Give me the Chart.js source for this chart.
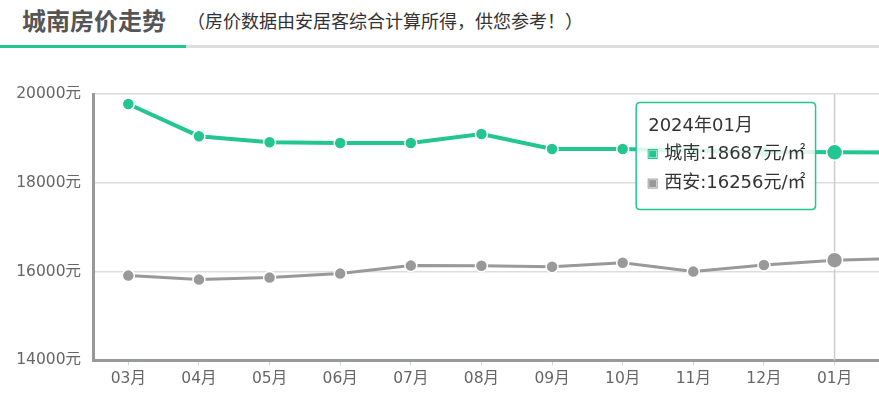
<!DOCTYPE html>
<html>
<head>
<meta charset="utf-8">
<script src="https://cdn.jsdelivr.net/npm/chart.js@4"></script>
<style>
  body { margin: 0; width: 879px; height: 405px; overflow: hidden; background: #fff; font-family: "Noto Sans CJK SC", sans-serif; }
  .head { position: absolute; left: 0; top: 0; width: 879px; height: 45px; }
  .head h2 { position: absolute; left: 22px; top: 4px; margin: 0; font-size: 24px; font-weight: bold; color: #555; line-height: 32px; }
  .head span { position: absolute; left: 187px; top: 6px; font-size: 18px; color: #333; line-height: 28px; }
  .bar { position: absolute; left: 0; top: 45px; width: 879px; height: 3px; background: #ddd; }
  .bar i { position: absolute; left: 0; top: 0; width: 186px; height: 3px; background: #23c68e; }
  .box { position: absolute; left: 0; top: 60px; width: 950px; height: 345px; }
</style>
</head>
<body>
<div class="head">
  <h2>城南房价走势</h2>
  <span>（房价数据由安居客综合计算所得，供您参考！）</span>
</div>
<div class="bar"><i></i></div>
<div class="box"><canvas id="priceChart"></canvas></div>
<script>
// 数据
const periods = ['2023年03月', '2023年04月', '2023年05月', '2023年06月', '2023年07月', '2023年08月',
  '2023年09月', '2023年10月', '2023年11月', '2023年12月', '2024年01月', '2024年02月'];
const chengnan = [19775, 19050, 18915, 18895, 18895, 19100, 18760, 18760, 18720, 18700, 18687, 18680];
const xian = [15910, 15820, 15865, 15955, 16135, 16130, 16110, 16200, 16000, 16150, 16256, 16300];
const yTicks = [14000, 16000, 18000, 20000];
const activeIndex = 10;

const GREEN = '#23c68e';
const GRAY = '#999999';
const FONT = '"DejaVu Sans", "Noto Sans CJK SC", sans-serif';

// 提示框固定在当前点左侧
Chart.Tooltip.positioners.leftOfPoint = function (elements) {
  if (!elements.length) return false;
  const area = this.chart.chartArea;
  return { x: elements[0].element.x, y: area.top + 62 };
};

// 竖向指示线
const crosshair = {
  id: 'crosshair',
  beforeDatasetsDraw(chart) {
    const act = chart.getActiveElements();
    if (!act.length) return;
    const x = act[0].element.x;
    const { top, bottom } = chart.chartArea;
    const ctx = chart.ctx;
    ctx.save();
    ctx.strokeStyle = '#cccccc';
    ctx.lineWidth = 1.5;
    ctx.beginPath();
    ctx.moveTo(x, top);
    ctx.lineTo(x, bottom);
    ctx.stroke();
    ctx.restore();
  }
};

const ctx = document.getElementById('priceChart').getContext('2d');
const chart = new Chart(ctx, {
  type: 'line',
  data: {
    labels: periods,
    datasets: [
      {
        label: '城南',
        data: chengnan,
        borderColor: GREEN,
        backgroundColor: GREEN,
        borderWidth: 4,
        pointRadius: 6,
        pointBorderWidth: 1.5,
        pointBorderColor: '#fff',
        pointHoverRadius: 8,
        pointHoverBorderWidth: 1.5,
        pointHoverBorderColor: '#fff',
        pointHoverBackgroundColor: GREEN,
        tension: 0,
      },
      {
        label: '西安',
        data: xian,
        borderColor: GRAY,
        backgroundColor: GRAY,
        borderWidth: 3,
        pointRadius: 6,
        pointBorderWidth: 1.5,
        pointBorderColor: '#fff',
        pointHoverRadius: 8,
        pointHoverBorderWidth: 1.5,
        pointHoverBorderColor: '#fff',
        pointHoverBackgroundColor: GRAY,
        tension: 0,
      },
    ],
  },
  options: {
    responsive: true,
    maintainAspectRatio: false,
    animation: false,
    events: [],
    layout: { padding: { top: 34, right: 4, bottom: 13, left: 0 } },
    plugins: {
      legend: { display: false },
      tooltip: {
        enabled: true,
        mode: 'index',
        intersect: false,
        position: 'leftOfPoint',
        xAlign: 'right',
        yAlign: 'center',
        caretSize: 0,
        caretPadding: 19,
        backgroundColor: 'rgba(255,255,255,0.85)',
        borderColor: GREEN,
        borderWidth: 1.5,
        cornerRadius: 4,
        titleColor: '#333',
        bodyColor: '#333',
        titleFont: { family: FONT, size: 18, weight: 'normal' },
        bodyFont: { family: FONT, size: 18 },
        padding: { top: 13, bottom: 15, left: 12, right: 10 },
        titleMarginBottom: 6,
        bodySpacing: 8,
        boxWidth: 9,
        boxHeight: 9,
        boxPadding: 5,
        multiKeyBackground: 'rgba(0,0,0,0)',
        displayColors: true,
        callbacks: {
          title: (items) => periods[items[0].dataIndex],
          label: (item) => item.dataset.label + ':' + item.raw + '元/㎡',
          labelColor: (item) => ({
            borderColor: item.dataset.borderColor,
            backgroundColor: item.dataset.borderColor,
            borderWidth: 1,
          }),
        },
      },
    },
    scales: {
      x: {
        offset: true,
        border: { color: GRAY, width: 3 },
        grid: { drawOnChartArea: false, drawTicks: true, tickLength: 5, color: '#c8d6e8' },
        ticks: {
          color: '#666',
          font: { family: FONT, size: 15.5 },
          padding: 4,
          callback: (v, i) => periods[i].slice(5),
        },
      },
      y: {
        min: yTicks[0],
        max: yTicks[yTicks.length - 1],
        afterBuildTicks: (scale) => { scale.ticks = yTicks.map((v) => ({ value: v })); },
        afterFit: (scale) => { scale.width = 93; },
        border: { color: GRAY, width: 3 },
        grid: { color: '#dddddd', lineWidth: 1.5, drawTicks: false },
        ticks: {
          color: '#666',
          font: { family: FONT, size: 15.5 },
          padding: 12,
          callback: (v) => v + '元',
        },
      },
    },
  },
  plugins: [crosshair],
});

// 默认显示2024年01月的提示
const act = [{ datasetIndex: 0, index: activeIndex }, { datasetIndex: 1, index: activeIndex }];
chart.setActiveElements(act);
chart.tooltip.setActiveElements(act, { x: 0, y: 0 });
chart.update();
</script>
</body>
</html>
